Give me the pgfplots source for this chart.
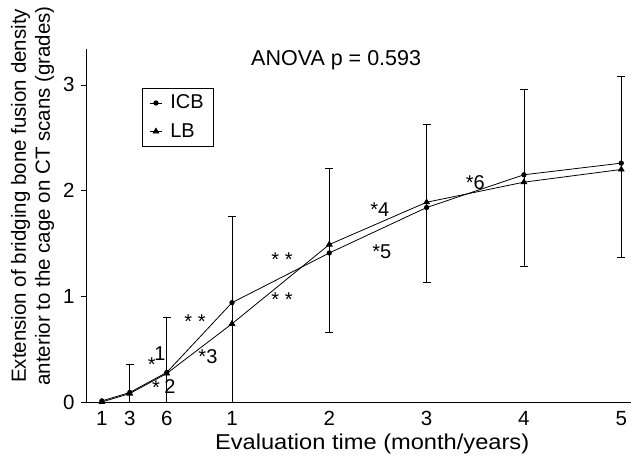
\documentclass[border=0pt]{standalone}
\usepackage{fontspec}
\setmainfont{Liberation Sans}
\newfontfamily\widefont[FakeStretch=1.1]{Liberation Sans}
\usepackage{pgfplots}
\pgfplotsset{compat=1.18}
\usepackage{pgfplotstable}

\pgfplotstableread{
x y
-0.337 0.01
-0.05 0.09
0.33 0.28
1 0.94
2 1.41
3 1.84
4 2.15
5 2.26
}\icb
\pgfplotstableread{
x y
-0.337 0.00
-0.05 0.08
0.33 0.27
1 0.74
2 1.49
3 1.89
4 2.08
5 2.20
}\lb
\pgfplotstableread{
x y ep em
-0.05 0.18 0.18 0.18
0.33 0.40 0.40 0.40
1 0.88 0.88 0.88
2 1.435 0.775 0.775
3 1.88 0.75 0.75
4 2.12 0.84 0.84
5 2.225 0.855 0.855
}\err

\begin{document}
\begin{tikzpicture}
\path[use as bounding box] (-86pt,-55pt) rectangle (545pt,402pt);
\begin{axis}[
  scale only axis,
  width=545pt, height=353pt,
  anchor=south west, at={(0pt,0pt)},
  xmin=-0.5, xmax=5.1,
  ymin=0, ymax=3.34,
  axis x line*=bottom, axis y line*=left,
  axis line style={-, line width=0.8pt},
  xtick={-0.337,-0.05,0.33,1,2,3,4,5},
  xticklabels={1,3,6,1,2,3,4,5},
  ytick={0,1,2,3},
  major x tick style={draw=none},
  tick align=outside,
  major tick length=5pt,
  tick style={line width=0.8pt, black},
  font=\fontsize{20}{24}\selectfont,
  /pgf/number format/assume math mode=true,
  ticklabel style={font=\fontsize{20.5}{24}\selectfont},
  xticklabel style={yshift=-1pt},
  yticklabel style={xshift=-3pt},
  xlabel={Evaluation time (month/years)},
  xlabel style={at={(ticklabel cs:0.525)}, anchor=north, yshift=-1pt,
    font=\widefont\fontsize{21.5}{24}\selectfont},
  ylabel={Extension of bridging bone fusion density\\anterior to the cage on CT scans (grades)},
  ylabel style={align=center, at={(ticklabel cs:0.584)}, yshift=2pt,
    font=\fontsize{20.5}{24}\selectfont},
  legend style={at={(rel axis cs:0.103,0.890)}, anchor=north west,
    draw=black, line width=0.8pt, font=\fontsize{20}{24}\selectfont,
    inner xsep=7pt, inner ysep=3pt, row sep=5pt, column sep=5pt,
    nodes={inner sep=3pt, text height=14.5pt, text depth=3pt}},
  legend cell align=left,
  legend image code/.code={\draw[mark repeat=2,mark phase=2,#1] plot coordinates {(0pt,0pt) (6pt,0pt) (12pt,0pt)};},
]
\addplot[black, line width=0.8pt, mark=*, mark size=2.2pt] table[x=x,y=y] {\icb};
\addlegendentry{ICB}
\addplot[black, line width=0.8pt, mark=triangle*, mark size=3.2pt] table[x=x,y=y] {\lb};
\addlegendentry{LB}
\addplot[draw=none, mark=none, forget plot,
  error bars/.cd, y dir=both, y explicit,
  error bar style={line width=0.8pt, draw=black},
  error mark options={line width=0.8pt, draw=black, mark size=4pt, rotate=90}]
  table[x=x, y=y, y error plus=ep, y error minus=em] {\err};

\node[font=\fontsize{21.5}{24}\selectfont] at (axis cs:2.07,3.236) {ANOVA p = 0.593};
\node at (axis cs:0.177,0.35) {*};
\node at (axis cs:0.26,0.46) {1};
\node at (axis cs:0.219,0.132) {*};
\node at (axis cs:0.362,0.142) {2};
\node at (axis cs:0.62,0.757) {* *};
\node at (axis cs:0.753,0.426) {*3};
\node at (axis cs:1.514,1.343) {* *};
\node at (axis cs:1.514,0.965) {* *};
\node at (axis cs:2.52,1.816) {*4};
\node at (axis cs:2.54,1.419) {*5};
\node at (axis cs:3.5,2.08) {*6};
\end{axis}
\end{tikzpicture}
\end{document}
